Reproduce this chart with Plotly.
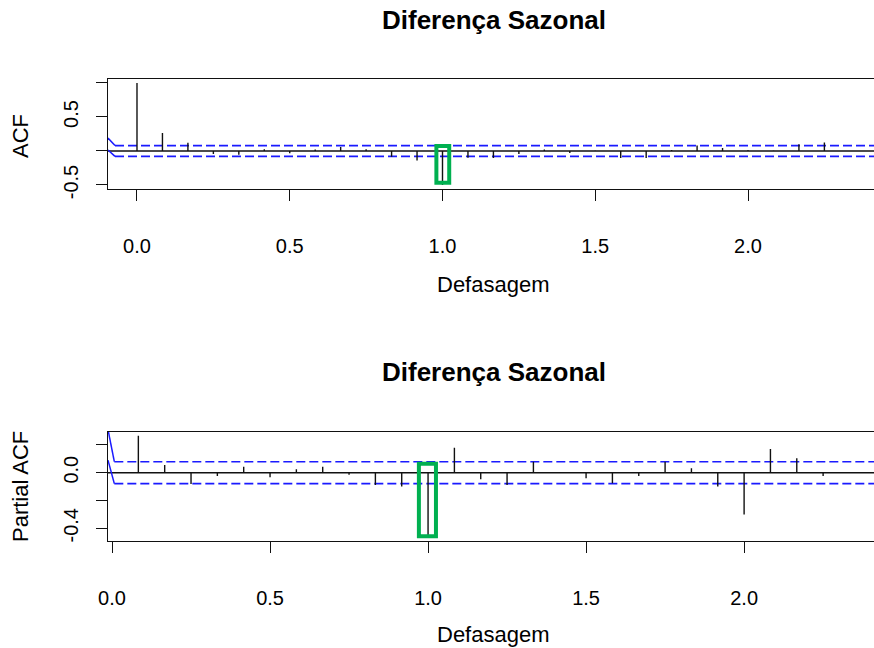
import plotly.graph_objects as go

# ---------------- data ----------------
acf_lags = [k / 12 for k in range(0, 28)]
acf_vals = [1.0, 0.265, 0.12, -0.045, -0.055, 0.025, -0.035, 0.02, 0.06, 0.025,
            -0.085, -0.14, -0.50, -0.10, -0.105, -0.045, 0.02, -0.03, 0.005,
            -0.105, -0.105, 0.015, 0.08, 0.045, 0.012, 0.005, 0.10, 0.125]

pacf_lags = [k / 12 for k in range(1, 28)]
pacf_vals = [0.266, 0.055, -0.081, -0.024, 0.043, -0.033, 0.024, 0.043, -0.014,
             -0.088, -0.10, -0.46, 0.18, -0.047, -0.088, 0.079, 0.004, -0.04,
             -0.076, -0.023, 0.079, 0.032, -0.10, -0.30, 0.17, 0.104, -0.023]

conf_limit = 0.079

# solid blue bound segments at the left edge (x, y)
acf_bound_x = [-0.0949, -0.072]
acf_bound_upper = [0.19, 0.079]
acf_bound_lower = [0.015, -0.079]
pacf_bound_x = [-0.0127, 0.0073]
pacf_bound_upper = [0.31, 0.079]
pacf_bound_lower = [0.09, -0.079]

# highlight boxes around the seasonal lag (x0, x1, y0, y1)
acf_highlight = [0.980, 1.022, -0.466, 0.074]
pacf_highlight = [0.971, 1.025, -0.458, 0.065]

x_ticks = [0.0, 0.5, 1.0, 1.5, 2.0]
acf_yticks = [-0.5, 0.0, 0.5, 1.0]
acf_yticktext = ["-0.5", "", "0.5", ""]
pacf_yticks = [-0.4, -0.2, 0.0, 0.2]
pacf_yticktext = ["-0.4", "", "0.0", ""]

title_text = "Diferença Sazonal"
xlabel = "Defasagem"
acf_label = "ACF"
pacf_label = "Partial ACF"

# ---------------- figure ----------------
W, H = 874, 648
FONT = "Liberation Sans, Arial, Helvetica, sans-serif"
BLUE = "#1a1aff"
GREEN = "#00B050"


def spikes(xs, ys):
    sx, sy = [], []
    for x, y in zip(xs, ys):
        sx += [x, x, None]
        sy += [0, y, None]
    return sx, sy


fig = go.Figure()

panels = [
    dict(xa="x", ya="y", lags=acf_lags, vals=acf_vals, bx=acf_bound_x,
         bu=acf_bound_upper, bl=acf_bound_lower, hl=acf_highlight),
    dict(xa="x2", ya="y2", lags=pacf_lags, vals=pacf_vals, bx=pacf_bound_x,
         bu=pacf_bound_upper, bl=pacf_bound_lower, hl=pacf_highlight),
]

for p in panels:
    fig.add_trace(go.Scatter(x=[-1, 3], y=[0, 0], mode="lines",
                             line=dict(color="#111111", width=1.4),
                             xaxis=p["xa"], yaxis=p["ya"], hoverinfo="skip"))
    for s in (1, -1):
        fig.add_trace(go.Scatter(x=[p["bx"][1], 3], y=[s * conf_limit, s * conf_limit],
                                 mode="lines",
                                 line=dict(color=BLUE, width=1.6, dash="9px,4px"),
                                 xaxis=p["xa"], yaxis=p["ya"], hoverinfo="skip"))
    for arr in (p["bu"], p["bl"]):
        fig.add_trace(go.Scatter(x=p["bx"], y=arr, mode="lines",
                                 line=dict(color=BLUE, width=1.5),
                                 xaxis=p["xa"], yaxis=p["ya"], hoverinfo="skip"))
    sx, sy = spikes(p["lags"], p["vals"])
    fig.add_trace(go.Scatter(x=sx, y=sy, mode="lines",
                             line=dict(color="#111111", width=1.4),
                             xaxis=p["xa"], yaxis=p["ya"], hoverinfo="skip"))
    x0, x1, y0, y1 = p["hl"]
    fig.add_shape(type="rect", xref=p["xa"], yref=p["ya"], x0=x0, x1=x1, y0=y0, y1=y1,
                  line=dict(color=GREEN, width=4), fillcolor="rgba(0,0,0,0)")


def px_y(top, bottom):
    return [(H - bottom) / H, (H - top) / H]


axis_common = dict(showgrid=False, zeroline=False, showline=True, linecolor="#111111",
                   linewidth=1.4, ticks="outside", ticklen=11, tickwidth=1.4,
                   automargin=False,
                   tickcolor="#111111", tickfont=dict(family=FONT, size=20, color="black"))

fig.update_layout(
    template="none",
    width=W, height=H, margin=dict(l=0, r=0, t=0, b=0, pad=0),
    paper_bgcolor="white", plot_bgcolor="white", showlegend=False,
    xaxis=dict(domain=[108 / W, 1], range=[-0.0949, 2.4124], anchor="y",
               tickvals=x_ticks, ticktext=[f"{v:.1f}" for v in x_ticks],
               mirror=True, ticklabelstandoff=28, **axis_common),
    yaxis=dict(domain=px_y(79.3, 189), range=[-0.559, 1.054], anchor="x",
               tickvals=acf_yticks, ticktext=acf_yticktext, tickangle=-90,
               ticklabelstandoff=10, **axis_common),
    xaxis2=dict(domain=[108 / W, 1], range=[-0.0127, 2.411], anchor="y2",
                tickvals=x_ticks, ticktext=[f"{v:.1f}" for v in x_ticks],
                mirror=True, ticklabelstandoff=28, **axis_common),
    yaxis2=dict(domain=px_y(431.7, 540.5), range=[-0.488, 0.295], anchor="x2",
                tickvals=pacf_yticks, ticktext=pacf_yticktext, tickangle=-90,
                ticklabelstandoff=10, **axis_common),
)


def ann(text, x, y, size, bold=False, angle=0):
    fig.add_annotation(text=f"<b>{text}</b>" if bold else text,
                       x=x / W, y=(H - y) / H, xref="paper", yref="paper",
                       showarrow=False, textangle=angle, xanchor="center", yanchor="middle",
                       font=dict(family=FONT, size=size, color="black"))


ann(title_text, 494, 20, 26, bold=True)
ann(title_text, 494, 372, 26, bold=True)
ann(xlabel, 494, 285, 22)
ann(xlabel, 494, 634, 22)
ann(acf_label, 20, 136, 22, angle=-90)
ann(pacf_label, 20, 487, 22, angle=-90)

fig.write_html("out.html",
               config={"displayModeBar": False},
               post_script="document.body.style.margin='0px';"
                           "document.body.style.overflow='hidden';")
